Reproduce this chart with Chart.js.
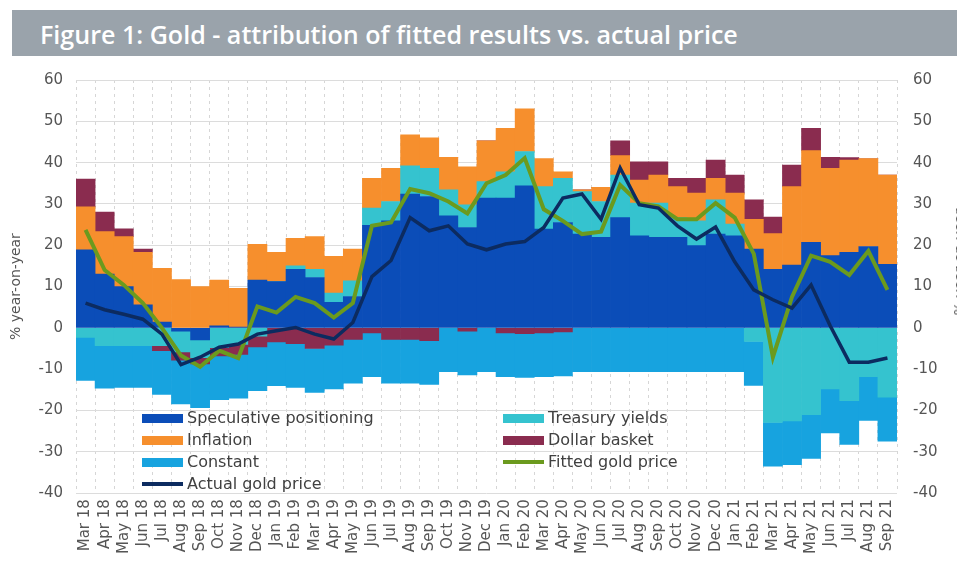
<!DOCTYPE html>
<html>
<head>
<meta charset="utf-8">
<script src="https://cdn.jsdelivr.net/npm/chart.js@4.4.0/dist/chart.umd.min.js"></script>
<style>
html, body { margin: 0; padding: 0; background: #fff; overflow: hidden; }
#wrap { position: relative; width: 957px; height: 569px; overflow: hidden; }
#title { position: absolute; left: 12px; top: 10px; width: 945px; height: 46px; background: #9aa3ab; overflow: hidden; }
#title span { position: absolute; left: 28px; top: 7px; line-height: 46px; color: #fff; font: 600 25px "Open Sans", Lato, sans-serif; white-space: nowrap; transform-origin: 0 50%; }
#chart { position: absolute; left: 0; top: 0; }
#ytitle2 { position: absolute; left: 959px; top: 262px; font: 14px "DejaVu Sans", sans-serif; color: #555; white-space: nowrap; transform: translate(-50%, -50%) rotate(-90deg); }
.lg { position: absolute; font: 16px "DejaVu Sans", sans-serif; color: #404040; white-space: nowrap; }
.lg i { position: absolute; left: 0; width: 41px; }
.lg b { position: absolute; left: 45px; font-weight: normal; top: -10px; }
</style>
</head>
<body>
<div id="wrap">
  <canvas id="chart" width="957" height="569"></canvas>
  <div id="title"><span>Figure 1: Gold - attribution of fitted results vs. actual price</span></div>
  <div id="ytitle2">% year-on-year</div>
  <div id="legend"></div>
</div>
<script>
// DATOS (% interanual)
const labels = ['Mar 18','Apr 18','May 18','Jun 18','Jul 18','Aug 18','Sep 18','Oct 18','Nov 18','Dec 18',
  'Jan 19','Feb 19','Mar 19','Apr 19','May 19','Jun 19','Jul 19','Aug 19','Sep 19','Oct 19','Nov 19','Dec 19',
  'Jan 20','Feb 20','Mar 20','Apr 20','May 20','Jun 20','Jul 20','Aug 20','Sep 20','Oct 20','Nov 20','Dec 20',
  'Jan 21','Feb 21','Mar 21','Apr 21','May 21','Jun 21','Jul 21','Aug 21','Sep 21'];

const speculative = [18.9, 13.0, 10.0, 5.6, 1.4, -0.8, -2.9, 0.5, 0.2, 11.6,
  11.2, 14.2, 12.2, 6.2, 7.6, 24.8, 25.9, 32.4, 31.8, 27.1, 24.3, 31.4,
  31.4, 34.4, 23.9, 25.5, 22.7, 21.9, 26.7, 22.3, 21.9, 21.9, 19.9, 22.7,
  22.3, 19.1, 14.2, 15.2, 20.7, 17.5, 18.3, 19.7, 15.4];

const treasury = [-2.3, -4.3, -4.3, -4.3, -4.3, -5.0, -4.3, -4.8, -4.0, -2.0,
  0, 0.8, 2.0, 2.2, 3.8, 4.2, 4.7, 6.8, 6.8, 6.3, 5.5, 4.0,
  6.4, 8.3, 10.3, 10.7, 10.3, 8.7, 10.3, 7.9, 8.3, 4.8, 6.0, 8.3,
  2.8, -3.3, -22.9, -22.5, -21.0, -14.8, -17.6, -11.8, -16.8];

const inflation = [10.4, 10.3, 12.1, 12.7, 13.0, 11.7, 10.0, 11.1, 9.4, 8.6,
  7.1, 6.7, 7.9, 8.9, 7.7, 7.2, 8.0, 7.5, 7.4, 7.9, 9.2, 9.9,
  10.5, 10.3, 6.8, 1.6, 0.4, 3.4, 4.7, 5.6, 6.8, 7.5, 6.7, 5.2,
  7.5, 7.2, 8.6, 19.0, 22.2, 21.1, 22.3, 21.3, 21.6];

const dollar = [6.7, 4.7, 1.9, 0.8, -1.2, -2.0, -1.5, -2.0, -2.4, -2.6,
  -3.4, -3.8, -5.0, -4.2, -2.8, -1.2, -2.8, -2.8, -3.1, 0, -0.8, 0,
  -1.2, -1.4, -1.2, -1.0, 0, 0, 3.6, 4.4, 3.2, 2.0, 3.6, 4.4,
  4.4, 4.7, 4.0, 5.2, 5.4, 2.7, 0.6, 0, 0];

const constant = [-10.4, -10.3, -10.1, -10.1, -10.6, -10.6, -10.6, -10.6, -10.6, -10.6,
  -10.6, -10.6, -10.6, -10.6, -10.6, -10.6, -10.6, -10.6, -10.6, -10.6, -10.6, -10.6,
  -10.6, -10.6, -10.6, -10.6, -10.6, -10.6, -10.6, -10.6, -10.6, -10.6, -10.6, -10.6,
  -10.6, -10.6, -10.6, -10.6, -10.6, -10.6, -10.6, -10.6, -10.6];

const fitted = [23.7, 14.0, 10.4, 6.0, 0.0, -6.7, -9.4, -5.5, -7.3, 5.2,
  3.7, 7.5, 6.0, 2.5, 6.0, 24.7, 25.5, 33.6, 32.6, 30.6, 27.7, 35.0,
  37.0, 41.1, 28.7, 25.9, 22.7, 23.3, 34.6, 30.2, 29.4, 26.3, 26.3, 30.2,
  26.7, 17.9, -7.1, 7.5, 17.5, 16.0, 12.8, 18.6, 9.2];

const actual = [6.0, 4.4, 3.3, 2.1, -1.5, -8.9, -7.1, -4.7, -3.9, -1.5,
  -0.7, 0.1, -1.5, -2.7, 1.3, 12.4, 16.3, 26.7, 23.5, 24.7, 20.3, 18.9,
  20.3, 20.9, 24.3, 31.4, 32.4, 26.3, 38.7, 29.8, 29.0, 24.7, 21.5, 24.4,
  16.0, 9.2, 6.8, 4.8, 10.4, 0.5, -8.3, -8.3, -7.3];

const yMin = -40;
const yMax = 60;
const yStep = 10;
const axisTitle = '% year-on-year';

// TITULO: ajustar ancho al original
let tSpan = document.querySelector('#title span');
tSpan.style.transform = 'scaleX(' + (698 / tSpan.offsetWidth) + ')';

function bar(label, data, color) {
  return { type: 'bar', label: label, data: data, backgroundColor: color, borderWidth: 0,
    stack: 'comp', order: 2, categoryPercentage: 1.0, barPercentage: 1.0 };
}
function line(label, data, color, width, ord) {
  return { type: 'line', label: label, data: data, borderColor: color, backgroundColor: color,
    borderWidth: width, pointRadius: 0, tension: 0, fill: false, stack: label, order: ord };
}

const datasets = [
  bar('Speculative positioning', speculative, '#0b4db8'),
  bar('Treasury yields', treasury, '#35c3cf'),
  bar('Inflation', inflation, '#f68f2d'),
  bar('Dollar basket', dollar, '#8a2c4f'),
  bar('Constant', constant, '#17a3df'),
  line('Fitted gold price', fitted, '#6b9a1e', 4, 1),
  line('Actual gold price', actual, '#0c2b60', 3.5, 0)
];

const tickFont = { family: 'DejaVu Sans', size: 15 };

const myChart = new Chart(document.getElementById('chart'), {
  data: { labels: labels, datasets: datasets },
  options: {
    responsive: false,
    animation: false,
    layout: { padding: { top: 80, left: 4, right: 0, bottom: 9 } },
    plugins: { legend: { display: false }, tooltip: { enabled: false } },
    scales: {
      x: {
        stacked: true,
        grid: { color: '#d6d6d6', offset: true, drawTicks: false },
        border: { display: false, dash: [3, 4] },
        ticks: { autoSkip: false, maxRotation: 90, minRotation: 90, padding: 6,
          color: '#555', font: tickFont }
      },
      y: {
        stacked: true, position: 'left', min: yMin, max: yMax,
        grid: { color: '#dcdcdc', drawTicks: false },
        border: { display: false },
        ticks: { stepSize: yStep, padding: 13, color: '#555', font: tickFont },
        title: { display: true, text: axisTitle, color: '#555', font: { family: 'DejaVu Sans', size: 14 }, padding: { top: 4, bottom: 0 } },
        afterFit: s => { s.width = 72; }
      },
      y2: {
        position: 'right', min: yMin, max: yMax,
        grid: { display: false, drawTicks: false },
        border: { display: false },
        ticks: { stepSize: yStep, padding: 16, color: '#555', font: tickFont },
        afterFit: s => { s.width = 60; }
      }
    }
  }
});

// LEYENDA (dos columnas, dentro del área del gráfico)
let legendBox = document.getElementById('legend');
let legendItems = [
  ['Speculative positioning', 142, 418], ['Inflation', 142, 440], ['Constant', 142, 462], ['Actual gold price', 142, 484],
  ['Treasury yields', 503, 418], ['Dollar basket', 503, 440], ['Fitted gold price', 503, 462]
];
legendItems.forEach(item => {
  let ds = datasets.find(d => d.label === item[0]);
  let div = document.createElement('div');
  div.className = 'lg';
  div.style.left = item[1] + 'px';
  div.style.top = item[2] + 'px';
  let sw = document.createElement('i');
  if (ds.type === 'line') {
    sw.style.height = '4px'; sw.style.top = '-2px'; sw.style.background = ds.borderColor;
  } else {
    sw.style.height = '9px'; sw.style.top = '-4px'; sw.style.background = ds.backgroundColor;
  }
  let tx = document.createElement('b');
  tx.textContent = ds.label;
  div.appendChild(sw);
  div.appendChild(tx);
  legendBox.appendChild(div);
});
</script>
</body>
</html>
